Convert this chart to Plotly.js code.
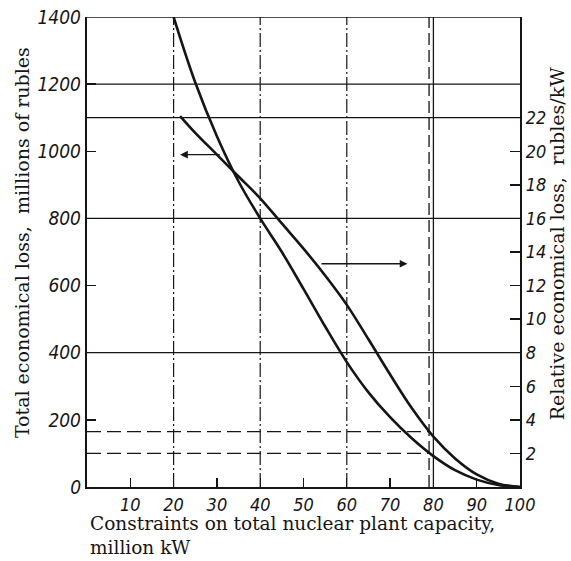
<!DOCTYPE html>
<html>
<head>
<meta charset="utf-8">
<script src="https://cdn.plot.ly/plotly-3.0.1.min.js"></script>
<style>
  html, body { margin: 0; padding: 0; background: #ffffff; }
  #chart { width: 571px; height: 561px; }
</style>
</head>
<body>
<div id="chart"></div>
<script>
// Capacity constraint, million kW
const capacityTotal = [20, 25, 30, 35, 40, 45, 50, 55, 60, 65, 70, 75, 80, 85, 90, 95, 100];
// Total economical loss, millions of rubles
const totalLoss = [1400, 1205, 1045, 910, 800, 700, 590, 478, 372, 282, 208, 145, 92, 50, 22, 6, 0];

const capacityRelative = [21.5, 25, 30, 35, 40, 45, 50, 55, 60, 65, 70, 75, 80, 85, 90, 95, 100];
// Relative economical loss, rubles/kW
const relativeLoss = [22.1, 21.1, 19.8, 18.5, 17.2, 15.7, 14.2, 12.6, 10.85, 8.8, 6.7, 4.7, 3.0, 1.7, 0.75, 0.2, 0];

const xTicks = [10, 20, 30, 40, 50, 60, 70, 80, 90, 100];
const leftTicks = [0, 200, 400, 600, 800, 1000, 1200, 1400];
const rightTicks = [2, 4, 6, 8, 10, 12, 14, 16, 18, 20, 22];

// Reference grid lines
const gridLeft = [400, 800, 1200, 1400];
const gridRight = [22];
const gridXDashDot = [20, 40, 60];
const gridXSolid = [80];

// Marked operating point: capacity and the two losses read there
const markCapacity = 79;
const markTotal = 100;
const markRelative = 3.3;

const ink = '#151515';
const numFamily = 'Liberation Sans Narrow, DejaVu Sans Condensed, Liberation Sans, sans-serif';
const serif = 'DejaVu Serif, Liberation Serif, serif';

const traces = [
  {
    x: capacityTotal, y: totalLoss, yaxis: 'y',
    mode: 'lines', line: { color: ink, width: 2.6, shape: 'spline', smoothing: 1 },
    hoverinfo: 'skip', showlegend: false
  },
  {
    x: capacityRelative, y: relativeLoss, yaxis: 'y2',
    mode: 'lines', line: { color: ink, width: 2.6, shape: 'spline', smoothing: 1 },
    hoverinfo: 'skip', showlegend: false
  }
];

const shapes = [];
gridLeft.forEach(v => shapes.push({
  type: 'line', xref: 'x', yref: 'y', x0: 0, x1: 100, y0: v, y1: v,
  line: { color: ink, width: 1.3 }, layer: 'below'
}));
gridRight.forEach(v => shapes.push({
  type: 'line', xref: 'x', yref: 'y2', x0: 0, x1: 100, y0: v, y1: v,
  line: { color: ink, width: 1.3 }, layer: 'below'
}));
gridXDashDot.forEach(v => shapes.push({
  type: 'line', xref: 'x', yref: 'y', x0: v, x1: v, y0: 0, y1: 1400,
  line: { color: ink, width: 1.2, dash: '14px,3px,2px,3px' }, layer: 'below'
}));
gridXSolid.forEach(v => shapes.push({
  type: 'line', xref: 'x', yref: 'y', x0: v, x1: v, y0: 0, y1: 1400,
  line: { color: ink, width: 1.3 }, layer: 'below'
}));
// Dashed guides through the marked capacity
shapes.push({
  type: 'line', xref: 'x', yref: 'y', x0: markCapacity, x1: markCapacity, y0: 0, y1: 1400,
  line: { color: ink, width: 1.3, dash: '12px,5px' }, layer: 'below'
});
shapes.push({
  type: 'line', xref: 'x', yref: 'y', x0: 0, x1: markCapacity, y0: markTotal, y1: markTotal,
  line: { color: ink, width: 1.3, dash: '14px,6px' }, layer: 'below'
});
shapes.push({
  type: 'line', xref: 'x', yref: 'y2', x0: 0, x1: markCapacity, y0: markRelative, y1: markRelative,
  line: { color: ink, width: 1.3, dash: '14px,6px' }, layer: 'below'
});

const annotations = [
  // arrow: steep curve belongs to the left axis
  {
    xref: 'x', yref: 'y', axref: 'x', ayref: 'y',
    x: 21.5, y: 990, ax: 31, ay: 990, text: '',
    showarrow: true, arrowhead: 2, arrowsize: 1.1, arrowwidth: 1.4, arrowcolor: ink
  },
  // arrow: flatter curve belongs to the right axis
  {
    xref: 'x', yref: 'y2', axref: 'x', ayref: 'y2',
    x: 74, y: 13.3, ax: 53.8, ay: 13.3, text: '',
    showarrow: true, arrowhead: 2, arrowsize: 1.1, arrowwidth: 1.4, arrowcolor: ink
  },
  {
    xref: 'paper', yref: 'paper', x: -0.150, y: 0.519, textangle: -90,
    xanchor: 'center', yanchor: 'middle', showarrow: false,
    text: 'Total economical loss,  millions of rubles',
    font: { family: serif, size: 19, color: ink }
  },
  {
    xref: 'paper', yref: 'paper', x: 1.086, y: 0.517, textangle: -90,
    xanchor: 'center', yanchor: 'middle', showarrow: false,
    text: 'Relative economical loss,  rubles/kW',
    font: { family: serif, size: 19, color: ink }
  },
  {
    xref: 'paper', yref: 'paper', x: 0.002, y: -0.077,
    xanchor: 'left', yanchor: 'middle', showarrow: false,
    text: 'Constraints on total nuclear plant capacity,',
    font: { family: serif, size: 18.5, color: ink }
  },
  {
    xref: 'paper', yref: 'paper', x: 0.002, y: -0.128,
    xanchor: 'left', yanchor: 'middle', showarrow: false,
    text: 'million kW',
    font: { family: serif, size: 18.5, color: ink }
  }
];

const layout = {
  width: 571, height: 561,
  margin: { l: 87, r: 51, t: 17, b: 74 },
  paper_bgcolor: '#ffffff', plot_bgcolor: '#ffffff',
  showlegend: false,
  xaxis: {
    range: [0, 100], tickvals: xTicks, ticktext: xTicks.map(String),
    ticks: 'inside', ticklen: 9, tickwidth: 1.3, tickcolor: ink,
    showgrid: false, zeroline: false,
    showline: true, linewidth: 2.2, linecolor: ink,
    tickfont: { family: numFamily, size: 18, color: ink, style: 'italic' },
    automargin: false
  },
  yaxis: {
    range: [0, 1400], tickvals: leftTicks, ticktext: leftTicks.map(String),
    ticks: 'inside', ticklen: 9, tickwidth: 1.3, tickcolor: ink,
    showgrid: false, zeroline: false,
    showline: true, linewidth: 2.2, linecolor: ink,
    tickfont: { family: numFamily, size: 19, color: ink, style: 'italic' },
    automargin: false
  },
  yaxis2: {
    overlaying: 'y', side: 'right',
    range: [0, 28], tickvals: rightTicks, ticktext: rightTicks.map(String),
    ticks: 'inside', ticklen: 10, tickwidth: 1.3, tickcolor: ink,
    showgrid: false, zeroline: false,
    showline: true, linewidth: 2.2, linecolor: ink,
    tickfont: { family: numFamily, size: 18, color: ink, style: 'italic' },
    automargin: false
  },
  shapes: shapes,
  annotations: annotations
};

Plotly.newPlot('chart', traces, layout, { staticPlot: true, displayModeBar: false });
</script>
</body>
</html>
